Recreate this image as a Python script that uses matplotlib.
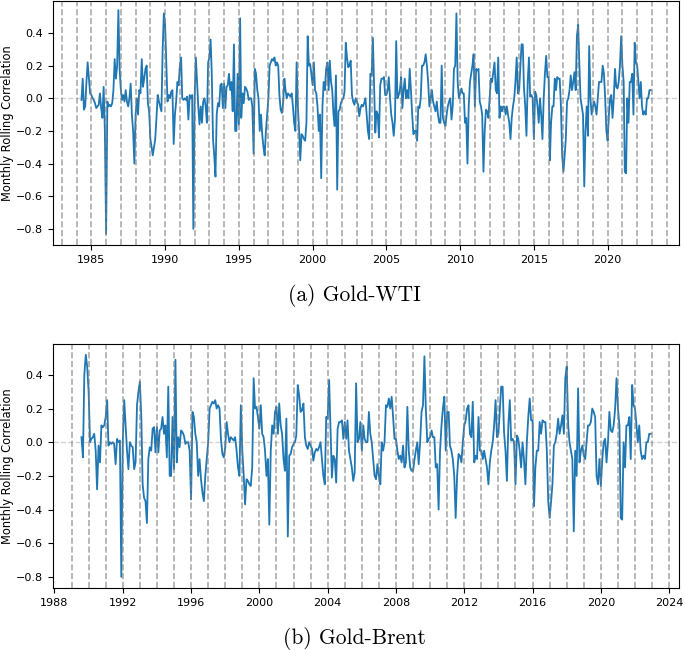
import matplotlib
matplotlib.use("Agg")
import matplotlib.pyplot as plt
import matplotlib.dates as mdates
import numpy as np
import pandas as pd

# monthly rolling correlation, Gold-WTI, May 1984 .. Dec 2022
wti_corr = [
    -0.01, 0.12, -0.07, -0.05, 0.1, 0.22, 0.12, 0.03,                       # 1984
    0.02, 0.0, -0.01, -0.03, -0.06, -0.05, -0.04, 0.03, -0.06, -0.12, 0.07, -0.2,
    -0.83, -0.02, -0.05, -0.04, -0.05, -0.03, 0.05, 0.24, 0.12, 0.2, 0.54, 0.18,
    0.05, -0.01, 0.02, -0.02, 0.05, -0.02, -0.05, 0.0, 0.09, -0.1, -0.2, -0.4,
    -0.1, 0.0, -0.1, 0.05, 0.03, 0.24, 0.07, 0.12, 0.18, 0.2, -0.03, -0.08,
    -0.25, -0.3, -0.35, -0.3, -0.25, -0.12, 0.02, -0.02, -0.05, -0.08, 0.3, 0.52,
    0.45, 0.2, -0.02, 0.02, 0.0, 0.04, 0.05, -0.28, -0.1, -0.02, 0.1, 0.08,
    0.2, 0.25, 0.0, -0.01, 0.0, -0.01, 0.01, -0.13, 0.02, 0.0, 0.02, -0.8,
    0.0, 0.25, 0.1, -0.05, -0.16, -0.05, -0.15, -0.02, 0.0, -0.05, -0.15, 0.22,
    0.25, 0.36, 0.15, -0.25, -0.35, -0.48, -0.1, -0.03, -0.05, 0.08, 0.09, -0.06,
    0.09, -0.06, 0.07, 0.08, 0.15, 0.05, 0.1, -0.08, 0.33, -0.2, -0.2, 0.15,
    -0.16, 0.49, -0.12, 0.03, -0.03, 0.07, 0.06, 0.04, -0.01, 0.0, 0.0, -0.05,
    -0.34, 0.18, 0.15, 0.05, 0.0, -0.2, -0.1, -0.22, -0.3, -0.35, -0.2, -0.1,
    0.0, 0.2, 0.22, 0.24, 0.23, 0.25, 0.2, 0.22, 0.2, 0.02, -0.07, -0.09,
    -0.03, 0.12, 0.05, 0.0, 0.03, 0.02, 0.01, 0.03, -0.05, -0.15, -0.2, 0.22,
    -0.05, -0.2, -0.38, -0.22, -0.23, -0.25, -0.26, -0.15, 0.38, 0.2, 0.21, 0.15,
    0.08, 0.22, 0.05, 0.03, -0.05, -0.2, -0.1, -0.49, -0.05, 0.1, 0.05, 0.18,
    0.22, 0.05, 0.23, 0.1, 0.05, -0.1, -0.17, 0.14, -0.56, -0.08, -0.07, -0.03,
    -0.01, 0.0, 0.04, 0.34, 0.25, 0.19, 0.2, 0.23, 0.02, -0.02, -0.04, 0.0,
    -0.02, -0.04, -0.11, -0.06, -0.04, -0.05, -0.03, 0.0, -0.1, -0.2, -0.25, 0.15,
    0.14, 0.37, 0.1, -0.21, -0.08, -0.1, -0.24, 0.08, 0.12, 0.12, 0.13, 0.02,
    0.02, 0.05, 0.13, 0.0, -0.1, -0.15, -0.23, -0.13, 0.35, 0.0, 0.02, 0.05,
    0.13, -0.06, 0.05, 0.12, 0.0, 0.05, 0.0, 0.18, 0.05, -0.1, -0.22, -0.2,
    -0.2, -0.26, -0.05, -0.06, 0.0, 0.2, 0.2, 0.22, 0.27, 0.2, 0.1, -0.05,
    0.0, 0.05, -0.02, -0.05, -0.08, -0.02, -0.1, -0.15, -0.15, 0.2, -0.12, -0.15,
    -0.17, -0.1, -0.05, -0.02, 0.0, -0.13, -0.05, 0.18, 0.2, 0.52, 0.1, 0.0,
    0.03, 0.06, 0.03, 0.03, -0.15, -0.12, -0.4, -0.05, 0.1, 0.15, 0.2, 0.27,
    -0.05, 0.18, 0.17, 0.18, -0.02, -0.05, -0.1, -0.45, -0.2, -0.07, -0.08, -0.12,
    0.0, 0.12, 0.1, 0.16, 0.22, 0.05, 0.03, 0.25, -0.12, -0.05, -0.08, -0.05,
    -0.05, -0.1, -0.05, -0.1, -0.15, -0.25, -0.12, -0.05, 0.0, 0.1, 0.25, 0.03,
    0.05, 0.2, 0.33, 0.33, 0.06, -0.05, -0.23, 0.1, 0.25, 0.01, 0.02, 0.0,
    -0.25, 0.04, 0.02, -0.05, -0.15, 0.0, -0.1, -0.25, 0.0, 0.15, 0.26, 0.13,
    0.13, -0.38, -0.15, -0.05, -0.05, 0.12, 0.05, 0.13, 0.12, 0.12, -0.05, -0.35,
    -0.45, -0.35, -0.25, -0.02, 0.0, 0.05, 0.14, 0.05, 0.1, 0.16, 0.05, 0.38,
    0.45, 0.2, 0.0, -0.05, -0.1, -0.54, -0.2, -0.05, -0.23, 0.32, 0.0, -0.1,
    -0.05, -0.02, -0.05, -0.1, 0.0, 0.1, 0.1, 0.1, 0.2, 0.15, 0.0, -0.2,
    -0.26, -0.1, 0.0, 0.02, -0.12, 0.0, 0.18, 0.07, 0.06, 0.1, 0.2, 0.38,
    0.2, 0.1, -0.45, -0.46, 0.0, -0.15, 0.1, 0.1, 0.15, -0.1, 0.34, 0.22,
    0.2, 0.1, 0.0, 0.1, -0.05, -0.1, -0.08, -0.1, 0.0, 0.0, 0.05, 0.05,   # 2022
]

# monthly rolling correlation, Gold-Brent, Aug 1989 .. Dec 2022
brent_corr = [
    0.03, -0.09, 0.4, 0.52, 0.45,                                             # 1989
    0.3, 0.0, 0.02, 0.03, 0.05, -0.05, -0.28, -0.02, -0.12, 0.1, 0.09, 0.1,
    0.15, 0.25, -0.02, 0.0, -0.01, 0.0, -0.01, -0.13, 0.02, 0.0, 0.01, -0.8,
    0.0, 0.25, 0.1, -0.05, -0.16, -0.0, -0.02, -0.03, -0.16, -0.12, 0.22, 0.3,
    0.36, 0.15, -0.25, -0.33, -0.35, -0.48, -0.1, -0.03, -0.05, 0.08, 0.09, -0.06,
    0.09, -0.06, 0.07, 0.08, 0.15, 0.05, 0.1, -0.09, 0.33, -0.2, -0.2, 0.15,
    -0.16, 0.49, -0.12, 0.03, -0.03, 0.07, 0.06, 0.04, -0.01, 0.0, 0.0, -0.05,
    -0.34, 0.18, 0.15, 0.05, 0.0, -0.2, -0.1, -0.22, -0.3, -0.35, -0.2, -0.1,
    0.0, 0.2, 0.22, 0.24, 0.23, 0.25, 0.2, 0.22, 0.2, 0.02, -0.07, -0.09,
    -0.03, 0.12, 0.05, 0.0, 0.03, 0.02, 0.01, 0.03, -0.05, -0.15, -0.2, 0.22,
    -0.05, -0.2, -0.37, -0.22, -0.23, -0.25, -0.26, -0.15, 0.38, 0.2, 0.21, 0.15,
    0.08, 0.22, 0.05, 0.03, -0.05, -0.2, -0.1, -0.49, -0.05, 0.1, 0.05, 0.18,
    0.21, 0.05, 0.23, 0.1, 0.05, -0.1, -0.17, 0.14, -0.56, -0.08, -0.07, -0.03,
    -0.01, 0.0, 0.04, 0.34, 0.28, 0.18, 0.19, 0.23, 0.03, -0.02, -0.04, 0.0,
    -0.02, -0.04, -0.11, -0.06, -0.04, -0.05, -0.03, 0.0, -0.1, -0.2, -0.25, 0.15,
    0.14, 0.37, 0.1, -0.21, -0.08, -0.1, -0.24, 0.08, 0.12, 0.12, 0.13, 0.02,
    0.12, 0.02, 0.13, -0.05, -0.1, -0.15, -0.23, -0.18, 0.35, 0.0, 0.02, 0.12,
    -0.05, 0.1, 0.02, 0.0, 0.0, 0.18, 0.05, 0.0, -0.1, -0.2, -0.22, -0.13,
    -0.2, -0.25, 0.0, -0.05, 0.0, 0.22, 0.21, 0.26, 0.2, 0.27, 0.15, 0.02,
    0.02, -0.05, -0.1, -0.08, -0.12, -0.02, -0.15, -0.12, 0.21, -0.05, -0.15, -0.17,
    -0.17, -0.1, -0.05, 0.0, -0.13, 0.0, 0.18, 0.22, 0.51, 0.2, 0.0, 0.02,
    0.03, 0.07, 0.03, 0.03, -0.15, -0.13, -0.4, -0.05, 0.1, 0.2, 0.27, -0.05,
    0.18, 0.18, -0.02, -0.05, -0.1, -0.2, -0.45, -0.2, -0.07, -0.08, -0.12, 0.0,
    0.1, 0.13, 0.2, 0.22, 0.05, 0.03, 0.24, -0.12, -0.08, -0.1, 0.15, -0.05,
    -0.05, -0.1, -0.05, -0.1, -0.15, -0.25, -0.12, -0.05, 0.0, 0.1, 0.25, 0.03,
    0.05, 0.2, 0.33, 0.33, 0.06, -0.05, -0.23, 0.1, 0.25, 0.01, 0.02, 0.0,
    -0.25, 0.04, 0.02, -0.05, -0.15, 0.0, -0.1, -0.25, 0.0, 0.15, 0.26, 0.13,
    0.13, -0.38, -0.15, -0.05, -0.05, 0.12, 0.05, 0.13, 0.12, 0.12, -0.05, -0.35,
    -0.45, -0.35, -0.25, -0.02, 0.0, 0.05, 0.14, 0.05, 0.1, 0.16, 0.05, 0.38,
    0.45, 0.1, 0.0, -0.05, -0.1, -0.53, -0.05, -0.2, 0.32, -0.12, -0.05, -0.02,
    -0.08, -0.1, 0.0, 0.1, 0.1, 0.12, 0.2, 0.18, 0.15, -0.2, -0.25, -0.1,
    -0.26, -0.1, 0.0, 0.02, -0.12, 0.0, 0.18, 0.07, 0.06, 0.1, 0.2, 0.38,
    0.2, 0.1, -0.45, -0.46, 0.0, -0.15, 0.1, 0.1, 0.15, -0.1, 0.34, 0.22,
    0.2, 0.1, 0.0, 0.1, -0.05, -0.1, -0.08, -0.1, 0.0, 0.0, 0.05, 0.05,   # 2022
]

wti_dates = pd.date_range("1984-05-01", periods=len(wti_corr), freq="MS")
brent_dates = pd.date_range("1989-08-01", periods=len(brent_corr), freq="MS")

wti_years = range(1983, 2025)
brent_years = range(1989, 2025)

fig = plt.figure(figsize=(6.85, 6.5), dpi=100)
ax1 = fig.add_axes([0.0774, 0.623, 0.914, 0.376])
ax2 = fig.add_axes([0.0774, 0.0954, 0.914, 0.376])

panels = [
    (ax1, wti_dates, wti_corr, wti_years, 5, "(a) Gold-WTI", 0.546),
    (ax2, brent_dates, brent_corr, brent_years, 4, "(b) Gold-Brent", 0.018),
]

for ax, dates, vals, years, step, caption, cap_y in panels:
    ax.plot(dates, vals, color="#1f77b4", lw=1.3)
    ax.axhline(0, color="gray", ls="--", lw=1, alpha=0.35)
    for yr in years:
        ax.axvline(pd.Timestamp(f"{yr}-01-01"), color="gray", ls="--", lw=1.2, alpha=0.65)
    ax.xaxis.set_major_locator(mdates.YearLocator(step))
    ax.xaxis.set_major_formatter(mdates.DateFormatter("%Y"))
    ax.tick_params(labelsize=8)
    ax.set_ylabel("Monthly Rolling Correlation", fontsize=8.3)
    ax.yaxis.set_label_coords(-0.063, 0.5)
    fig.text(0.518, cap_y, caption, ha="center", va="center",
             fontfamily="cmr10", fontsize=15.5)

# top panel is clipped just under 0.6 in the reference
ax1.set_ylim(-0.899, 0.598)

plt.savefig("out.png", dpi=100)
